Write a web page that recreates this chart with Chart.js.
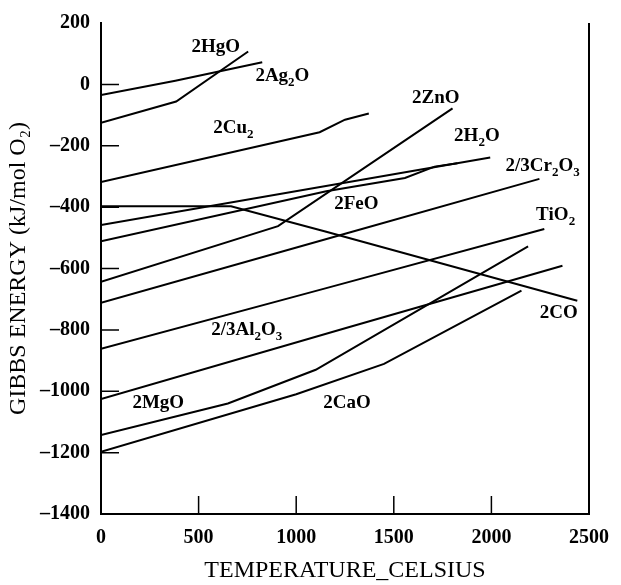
<!DOCTYPE html>
<html>
<head>
<meta charset="utf-8">
<script src="https://cdn.jsdelivr.net/npm/chart.js@4"></script>
<style>
  html, body { margin: 0; padding: 0; background: #fff; }
  #wrap { width: 621px; height: 585px; }
</style>
</head>
<body>
<div id="wrap"><canvas id="graphCanvas" width="621" height="585"></canvas></div>
<script>
// temperatures (C) and Gibbs energies (kJ/mol O2)
let hgoT = [0, 385, 754];
let hgoG = [-125, -56, 107];
let ag2oT = [0, 381, 826];
let ag2oG = [-35, 12, 72];
let cu2oT = [0, 1120, 1250, 1372];
let cu2oG = [-318, -156, -115, -95];
let znoT = [0, 907, 1801];
let znoG = [-643, -462, -78];
let h2oT = [0, 1994];
let h2oG = [-458, -238];
let feoT = [0, 1154, 1557, 1709, 1826];
let feoG = [-511, -348, -305, -268, -257];
let coT = [0, 666, 1154, 2440];
let coG = [-397, -397, -480, -705];
let cr2o3T = [0, 1255, 2246];
let cr2o3G = [-712, -486, -308];
let tio2T = [0, 1154, 2271];
let tio2G = [-862, -664, -471];
let al2o3T = [0, 1255, 2364];
let al2o3G = [-1025, -794, -591];
let mgoT = [0, 650, 1100, 2188];
let mgoG = [-1143, -1040, -930, -528];
let caoT = [0, 1000, 1450, 2154];
let caoG = [-1197, -1010, -911, -672];

let xTicks = [0, 500, 1000, 1500, 2000, 2500];
let yTicks = [200, 0, -200, -400, -600, -800, -1000, -1200, -1400];

// curve labels, '_' marks a subscript digit
let labelText = ['2HgO', '2Ag_2O', '2Cu_2', '2ZnO', '2H_2O', '2/3Cr_2O_3', '2FeO', 'TiO_2', '2CO', '2/3Al_2O_3', '2MgO', '2CaO'];
let labelT = [464, 791, 575, 1593, 1809, 2072, 1195, 2228, 2248, 565, 161, 1139];
let labelG = [120, 26, -144, -44, -170, -266, -391, -427, -745, -802, -1040, -1040];

function pts(ts, gs) {
    let out = [];
    for (let i = 0; i < ts.length; i++) out.push({ x: ts[i], y: gs[i] });
    return out;
}

let curves = [
    ['2HgO', hgoT, hgoG], ['2Ag2O', ag2oT, ag2oG], ['2Cu2O', cu2oT, cu2oG],
    ['2ZnO', znoT, znoG], ['2H2O', h2oT, h2oG], ['2FeO', feoT, feoG],
    ['2CO', coT, coG], ['2/3Cr2O3', cr2o3T, cr2o3G], ['TiO2', tio2T, tio2G],
    ['2/3Al2O3', al2o3T, al2o3G], ['2MgO', mgoT, mgoG], ['2CaO', caoT, caoG]
];

let datasets = curves.map(c => ({
    label: c[0],
    data: pts(c[1], c[2]),
    borderColor: '#000',
    borderWidth: 2,
    pointRadius: 0,
    fill: false,
    tension: 0
}));

const SERIF = '"Liberation Serif", "DejaVu Serif", serif';

// inner ticks, right frame line and the curve labels
let decor = {
    id: 'decor',
    afterDatasetsDraw(chart) {
        let c = chart.ctx;
        let xs = chart.scales.x, ys = chart.scales.y;
        let area = chart.chartArea;
        c.save();
        c.strokeStyle = '#000';
        c.lineWidth = 1.5;
        c.beginPath();
        xTicks.forEach(v => {
            if (v === xTicks[0] || v === xTicks[xTicks.length - 1]) return;
            let px = xs.getPixelForValue(v);
            c.moveTo(px, area.bottom);
            c.lineTo(px, area.bottom - 18);
        });
        yTicks.forEach(v => {
            if (v === 200 || v === -1400) return;
            let py = ys.getPixelForValue(v);
            c.moveTo(area.left, py);
            c.lineTo(area.left + 18, py);
        });
        c.stroke();
        c.lineWidth = 2;
        c.beginPath();
        c.moveTo(area.right, area.top);
        c.lineTo(area.right, area.bottom);
        c.stroke();

        c.fillStyle = '#000';
        c.textBaseline = 'middle';
        c.textAlign = 'left';
        let size = 19;
        for (let i = 0; i < labelText.length; i++) {
            let x = xs.getPixelForValue(labelT[i]);
            let y = ys.getPixelForValue(labelG[i]);
            let t = labelText[i];
            for (let k = 0; k < t.length; k++) {
                if (t[k] === '_') {
                    k++;
                    c.font = 'bold ' + Math.round(size * 0.7) + 'px ' + SERIF;
                    c.fillText(t[k], x, y + size * 0.33);
                    x += c.measureText(t[k]).width;
                } else {
                    c.font = 'bold ' + size + 'px ' + SERIF;
                    c.fillText(t[k], x, y);
                    x += c.measureText(t[k]).width;
                }
            }
        }
        c.restore();
    }
};

let ctx = document.getElementById('graphCanvas').getContext('2d');
let chart = new Chart(ctx, {
    type: 'line',
    data: { datasets: datasets },
    options: {
        responsive: false,
        animation: false,
        events: [],
        layout: { padding: { left: 0, right: 24, top: 16, bottom: 0 } },
        plugins: { legend: { display: false }, tooltip: { enabled: false } },
        scales: {
            x: {
                type: 'linear',
                min: 0, max: 2500,
                afterFit: s => { s.height = 71; },
                afterBuildTicks: s => { s.ticks = xTicks.map(v => ({ value: v })); },
                grid: { display: false, drawTicks: false },
                border: { display: true, color: '#000', width: 2 },
                ticks: {
                    color: '#000', padding: 12, maxRotation: 0,
                    font: { family: SERIF, size: 20, weight: 'bold' },
                    callback: v => '' + v
                },
                title: { display: true, text: 'TEMPERATURE_CELSIUS', color: '#000', padding: { top: 0, bottom: 0 }, font: { family: SERIF, size: 24 } }
            },
            y: {
                type: 'linear',
                min: -1400, max: 200,
                afterFit: s => { s.width = 101; },
                afterBuildTicks: s => { s.ticks = yTicks.map(v => ({ value: v })); },
                grid: { display: false, drawTicks: false },
                border: { display: true, color: '#000', width: 2 },
                ticks: {
                    color: '#000', padding: 11,
                    font: { family: SERIF, size: 20, weight: 'bold' },
                    callback: v => (v < 0 ? '\u2013' + Math.abs(v) : '' + v)
                },
                title: { display: true, text: 'GIBBS ENERGY (kJ/mol O\u2082)', color: '#000', padding: { top: 4, bottom: 0 }, font: { family: SERIF, size: 24 } }
            }
        }
    },
    plugins: [decor]
});
</script>
</body>
</html>
